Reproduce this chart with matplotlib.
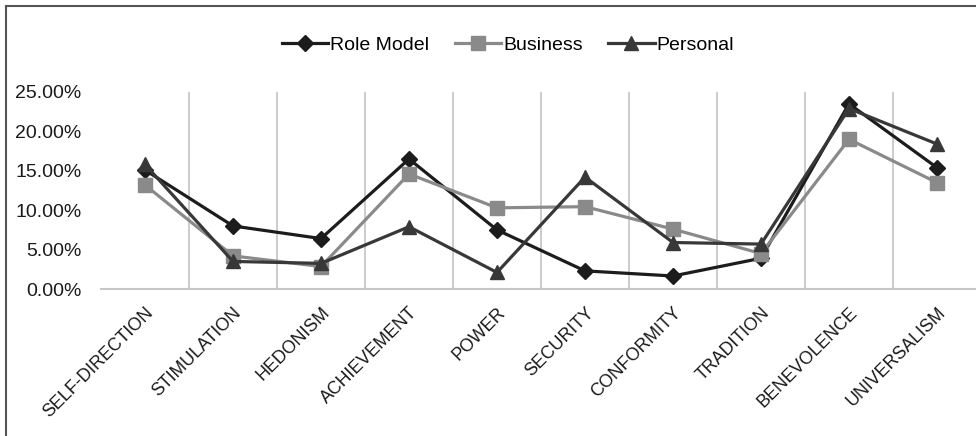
import matplotlib
matplotlib.use("Agg")
import matplotlib.pyplot as plt
from matplotlib.lines import Line2D
from matplotlib.ticker import PercentFormatter

plt.rcParams["font.family"] = ["Liberation Sans", "DejaVu Sans"]

categories = ["SELF-DIRECTION", "STIMULATION", "HEDONISM", "ACHIEVEMENT", "POWER",
              "SECURITY", "CONFORMITY", "TRADITION", "BENEVOLENCE", "UNIVERSALISM"]
role_model = [15.1, 8.0, 6.4, 16.5, 7.5, 2.3, 1.65, 3.9, 23.5, 15.4]
business = [13.2, 4.2, 2.85, 14.6, 10.3, 10.45, 7.6, 4.5, 19.0, 13.5]
personal = [15.8, 3.5, 3.25, 7.9, 2.1, 14.2, 5.9, 5.7, 22.9, 18.4]
y_ticks = [0, 5, 10, 15, 20, 25]

W, H = 976, 436
fig = plt.figure(figsize=(W / 100, H / 100), dpi=100)
ax = fig.add_axes([101 / W, 1 - 289 / H, 880 / W, (289 - 92) / H])

x = list(range(len(categories)))
series = [
    ("Role Model", role_model, "#1c1c1c", "D", 8),
    ("Business", business, "#8a8a8a", "s", 10),
    ("Personal", personal, "#383838", "^", 10.5),
]
handles = []
for name, vals, col, mk, ms in series:
    ln, = ax.plot(x, vals, color=col, lw=2.3, marker=mk, markersize=ms,
                  markeredgecolor=col, markerfacecolor=col, label=name, zorder=3)
    handles.append(ln)

ax.set_xlim(-0.5, len(categories) - 0.5)
ax.set_ylim(0, 25)
ax.set_yticks(y_ticks)
ax.yaxis.set_major_formatter(PercentFormatter(decimals=2))
ax.set_xticks(x)
ax.set_xticklabels(categories, rotation=45, ha="right", rotation_mode="anchor",
                   fontsize=12.8, color="#1a1a1a")
ax.tick_params(axis="x", length=0, pad=11)
ax.tick_params(axis="y", length=0, pad=14, labelsize=14, labelcolor="#1a1a1a")

# vertical separators between categories
for b in range(1, len(categories)):
    ax.axvline(b - 0.5, color="#c8c8c8", lw=1.3, zorder=1)

for side in ["top", "right", "left"]:
    ax.spines[side].set_visible(False)
ax.spines["bottom"].set_color("#c8c8c8")
ax.spines["bottom"].set_linewidth(1.5)

fig.legend(handles=handles, loc="center", bbox_to_anchor=(508 / W, 1 - 45 / H),
           ncol=3, frameon=False, fontsize=14, handlelength=2.4,
           handletextpad=0.1, columnspacing=1.3)

# chart border on left and top
fig.add_artist(Line2D([6 / W, 6 / W], [0, 1 - 6 / H], transform=fig.transFigure,
                      color="#555555", lw=1.5))
fig.add_artist(Line2D([6 / W, 1], [1 - 6 / H, 1 - 6 / H], transform=fig.transFigure,
                      color="#555555", lw=1.5))

fig.savefig("out.png", dpi=100, facecolor="white")
